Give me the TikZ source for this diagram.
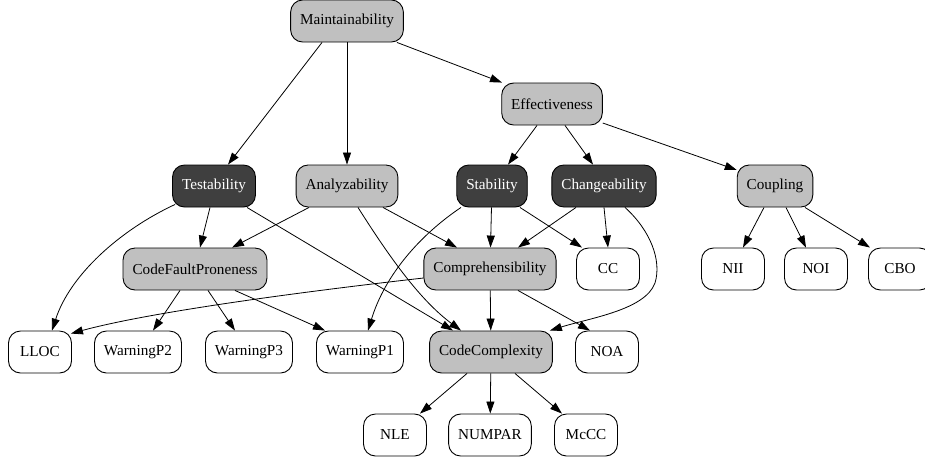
\documentclass[tikz,border=0pt]{standalone}
\usepackage{fontspec}
\setmainfont{Liberation Serif}
\usetikzlibrary{arrows.meta}
\definecolor{attrgray}{HTML}{C0C0C0}
\definecolor{subgray}{HTML}{3F3F3F}
\tikzset{
  metric/.style={draw=black,line width=0.9pt,rounded corners=12pt,fill=white,minimum width=63pt,minimum height=42pt,inner xsep=9.5pt,font=\fontsize{15.2}{18}\selectfont},
  attr/.style={metric,fill=attrgray},
  subchar/.style={metric,fill=subgray,text=white},
  >={Triangle[length=12pt,width=8pt]}
}
\begin{document}
\begin{tikzpicture}[x=1pt,y=-1pt,line width=0.8pt]
\useasboundingbox (0,0) rectangle (925,456);
\node[attr] (maint) at (347,21) {Maintainability};
\node[attr] (eff) at (552,104) {Effectiveness};
\node[subchar] (test) at (214,186) {Testability};
\node[attr] (anl) at (347,186) {Analyzability};
\node[subchar] (stab) at (492,186) {Stability};
\node[subchar] (chg) at (604,186) {Changeability};
\node[attr] (coup) at (775,186) {Coupling};
\node[attr] (cfp) at (195,269) {CodeFaultProneness};
\node[attr] (comp) at (490,269) {Comprehensibility};
\node[metric] (cc) at (608,269) {CC};
\node[metric] (nii) at (733,269) {NII};
\node[metric] (noi) at (816,269) {NOI};
\node[metric] (cbo) at (900,269) {CBO};
\node[metric] (lloc) at (40,352) {LLOC};
\node[metric] (wp2) at (138,352) {WarningP2};
\node[metric] (wp3) at (249,352) {WarningP3};
\node[metric] (wp1) at (360,352) {WarningP1};
\node[attr] (cplx) at (491,352) {CodeComplexity};
\node[metric] (noa) at (607,352) {NOA};
\node[metric] (nle) at (395,435) {NLE};
\node[metric] (numpar) at (490,435) {NUMPAR};
\node[metric] (mccc) at (586,435) {McCC};
\draw[->] ([xshift=-25pt]maint.south) -- ([xshift=14pt]test.north);
\draw[->] (maint) -- (anl);
\draw[->] ([xshift=50pt]maint.south) -- ([xshift=-50pt]eff.north);
\draw[->] ([xshift=-15pt]eff.south) -- ([xshift=16pt]stab.north);
\draw[->] ([xshift=13pt]eff.south) -- ([xshift=-11pt]chg.north);
\draw[->] ([yshift=-19pt]eff.east) -- ([yshift=16pt]coup.west);
\draw[->] ([xshift=-4pt]test.south) -- ([xshift=5pt]cfp.north);
\draw[->] ([shift={(3pt,3pt)}]test.south west) .. controls (120,230) and (70,275) .. ([xshift=12pt]lloc.north);
\draw[->] ([xshift=33pt]test.south) -- ([xshift=-38pt]cplx.north);
\draw[->] ([xshift=-38pt]anl.south) -- ([xshift=37pt]cfp.north);
\draw[->] ([xshift=36pt]anl.south) -- ([xshift=-33pt]comp.north);
\draw[->] ([xshift=11pt]anl.south) .. controls (390,258) and (420,300) .. ([xshift=-30pt]cplx.north);
\draw[->] ([xshift=-31pt]stab.south) .. controls (420,235) and (385,275) .. ([xshift=8pt]wp1.north);
\draw[->] (stab) -- (comp);
\draw[->] ([xshift=28pt]stab.south) -- ([xshift=-26pt]cc.north);
\draw[->] ([xshift=-28pt]chg.south) -- ([xshift=28pt]comp.north);
\draw[->] (chg.south) -- (cc.north);
\draw[->] ([xshift=21pt]chg.south) .. controls (650,230) and (662,260) .. (655,283) .. controls (645,310) and (590,318) .. ([xshift=-3pt]cplx.north east);
\draw[->] ([xshift=-11pt]coup.south) -- ([xshift=10pt]nii.north);
\draw[->] ([xshift=11pt]coup.south) -- ([xshift=-10pt]noi.north);
\draw[->] ([xshift=30pt]coup.south) -- ([xshift=-30pt]cbo.north);
\draw[->] ([xshift=-15pt]cfp.south) -- ([xshift=15pt]wp2.north);
\draw[->] ([xshift=13pt]cfp.south) -- ([xshift=-14pt]wp3.north);
\draw[->] ([xshift=40pt]cfp.south) -- ([xshift=-35pt]wp1.north);
\draw[->] ([yshift=-9pt]comp.west) .. controls (300,292) and (150,312) .. ([shift={(-1pt,-3pt)}]lloc.north east);
\draw[->] (comp) -- (cplx);
\draw[->] ([xshift=28pt]comp.south) -- ([xshift=-17pt]noa.north);
\draw[->] ([xshift=-24pt]cplx.south) -- ([xshift=25pt]nle.north);
\draw[->] (cplx) -- (numpar);
\draw[->] ([xshift=24pt]cplx.south) -- ([xshift=-24pt]mccc.north);
\end{tikzpicture}
\end{document}
